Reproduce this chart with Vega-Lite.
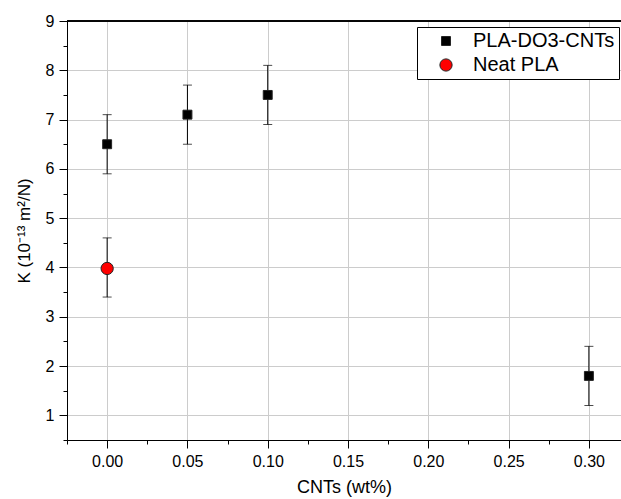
{
  "$schema": "https://vega.github.io/schema/vega-lite/v6.json",
  "width": 554,
  "height": 419,
  "autosize": {"type": "none"},
  "padding": {"left": 67, "top": 21, "right": 0, "bottom": 59},
  "background": "white",
  "config": {
    "view": {"stroke": null},
    "font": "Liberation Sans",
    "axis": {
      "labelFont": "Liberation Sans",
      "titleFont": "Liberation Sans",
      "labelFontSize": 16,
      "titleFontSize": 18,
      "titleFontWeight": "normal",
      "labelColor": "black",
      "titleColor": "black",
      "domainColor": "black",
      "tickColor": "black",
      "gridColor": "#cccccc",
      "gridWidth": 1,
      "labelOverlap": false,
      "labelFlush": false
    }
  },
  "data": {
    "values": [
      {"series": "PLA-DO3-CNTs", "x": 0.0, "k": 6.5, "lo": 5.9, "hi": 7.1},
      {"series": "PLA-DO3-CNTs", "x": 0.05, "k": 7.1, "lo": 6.5, "hi": 7.7},
      {"series": "PLA-DO3-CNTs", "x": 0.1, "k": 7.5, "lo": 6.9, "hi": 8.1},
      {"series": "PLA-DO3-CNTs", "x": 0.3, "k": 1.8, "lo": 1.2, "hi": 2.4},
      {"series": "Neat PLA", "x": 0.0, "k": 3.98, "lo": 3.4, "hi": 4.6}
    ]
  },
  "encoding": {
    "x": {
      "field": "x",
      "type": "quantitative",
      "title": "CNTs (wt%)",
      "scale": {"domain": [-0.025, 0.32], "nice": false, "zero": false},
      "axis": {
        "values": [-0.025, 0, 0.025, 0.05, 0.075, 0.1, 0.125, 0.15, 0.175, 0.2, 0.225, 0.25, 0.275, 0.3],
        "format": ".2f",
        "labelExpr": "round(datum.value*1000) % 50 == 0 ? datum.label : ''",
        "tickSize": {"condition": {"test": "round(datum.value*1000) % 50 != 0", "value": 4}, "value": 8},
        "gridOpacity": {"condition": {"test": "round(datum.value*1000) % 50 != 0", "value": 0}, "value": 1},
        "labelPadding": 5,
        "titlePadding": 9,
        "grid": true
      }
    },
    "y": {
      "field": "k",
      "type": "quantitative",
      "title": "K (10⁻¹³ m²/N)",
      "scale": {"domain": [0.5, 9], "nice": false, "zero": false},
      "axis": {
        "values": [0.5, 1, 1.5, 2, 2.5, 3, 3.5, 4, 4.5, 5, 5.5, 6, 6.5, 7, 7.5, 8, 8.5, 9],
        "format": ".0f",
        "labelExpr": "datum.value % 1 == 0 ? datum.label : ''",
        "tickSize": {"condition": {"test": "datum.value % 1 != 0", "value": 4}, "value": 8},
        "gridOpacity": {"condition": {"test": "datum.value % 1 != 0", "value": 0}, "value": 1},
        "labelPadding": 5,
        "titlePadding": 12,
        "titleFontSize": 17,
        "grid": true
      }
    }
  },
  "layer": [
    {
      "mark": {"type": "rule", "color": "black", "strokeWidth": 1},
      "encoding": {"y": {"datum": 9}, "x": null}
    },
    {
      "mark": {"type": "rule", "color": "black", "strokeWidth": 1},
      "encoding": {"y": {"field": "lo", "type": "quantitative"}, "y2": {"field": "hi"}}
    },
    {
      "mark": {"type": "tick", "orient": "horizontal", "color": "black", "size": 9, "thickness": 1},
      "encoding": {"y": {"field": "lo", "type": "quantitative"}}
    },
    {
      "mark": {"type": "tick", "orient": "horizontal", "color": "black", "size": 9, "thickness": 1},
      "encoding": {"y": {"field": "hi", "type": "quantitative"}}
    },
    {
      "mark": {"type": "point", "filled": true, "opacity": 1, "stroke": "#222222", "strokeWidth": 1},
      "encoding": {
        "color": {
          "field": "series",
          "type": "nominal",
          "scale": {"domain": ["PLA-DO3-CNTs", "Neat PLA"], "range": ["black", "#ff0000"]},
          "legend": {
            "title": null,
            "orient": "none",
            "legendX": 350,
            "legendY": 6,
            "strokeColor": "black",
            "fillColor": "white",
            "padding": 4,
            "symbolOffset": 15,
            "labelOffset": 17,
            "labelFont": "Liberation Sans",
            "labelFontSize": 20,
            "labelColor": "black",
            "rowPadding": 4,
            "symbolStrokeColor": "#222222",
            "symbolStrokeWidth": 1
          }
        },
        "shape": {
          "field": "series",
          "type": "nominal",
          "scale": {"domain": ["PLA-DO3-CNTs", "Neat PLA"], "range": ["square", "circle"]}
        },
        "size": {
          "field": "series",
          "type": "nominal",
          "scale": {"domain": ["PLA-DO3-CNTs", "Neat PLA"], "range": [80, 150]}
        }
      }
    }
  ]
}
